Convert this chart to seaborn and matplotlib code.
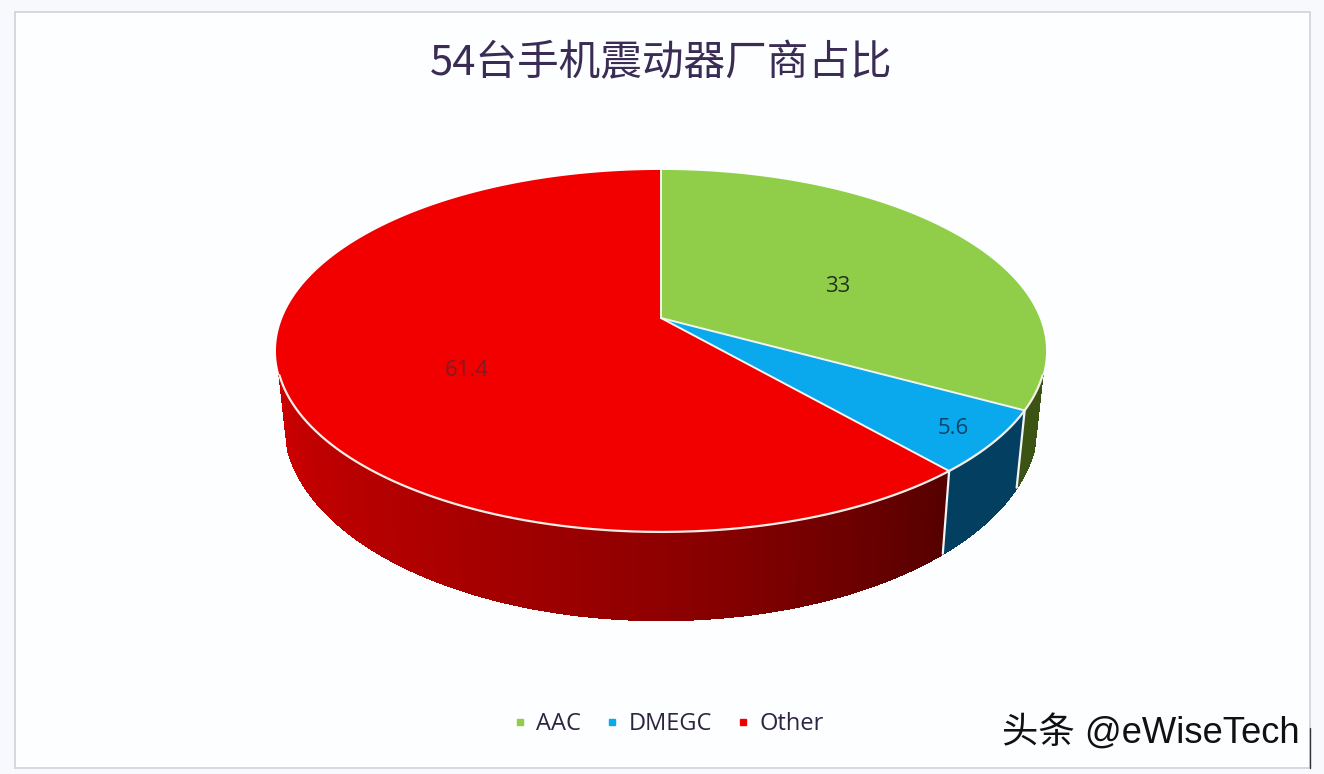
import numpy as np
import matplotlib
matplotlib.use('Agg')
import matplotlib.pyplot as plt
from matplotlib.lines import Line2D
from matplotlib.patches import Rectangle
import seaborn as sns

# vibration motor vendor share
vendors = ['AAC', 'DMEGC', 'Other']
shares = [33, 5.6, 61.4]
share_labels = ['33', '5.6', '61.4']

top_colors = ['#90ce4a', '#0aa9ee', '#f20000']

sns.set_theme(style='white')
plt.rcParams['font.family'] = ['Noto Sans CJK SC', 'DejaVu Sans']

# the pie is tilted, so the unit circle goes through a small perspective map (pixels)
CX, CY = 661, 318
PERSP = 0.182
RX, RY = 378.6, 175
DEPTH = 69
DEPTH_K = 1.09
BOTTOM_K = 0.978


def top_rim(t):
    # t in degrees, clockwise from 12 o'clock
    u, v = np.sin(np.radians(t)), np.cos(np.radians(t))
    w = 1 + PERSP * v
    return CX + RX * u / w, CY - RY * v / w


def bottom_rim(t):
    x, y = top_rim(t)
    return CX + (x - CX) * BOTTOM_K, CY + DEPTH + DEPTH_K * (y - CY)


fig = plt.figure(figsize=(13.24, 7.74), dpi=100, facecolor='#f8f9fc')
ax = fig.add_axes([0, 0, 1, 1])
ax.set_xlim(0, 1324)
ax.set_ylim(774, 0)
ax.axis('off')

ax.add_patch(Rectangle((15, 12), 1295, 756, fc='#fdfeff', ec='#cdd2da', lw=1.2))
ax.plot([1310, 1310], [728, 768], color='#30343a', lw=1)

edges = np.concatenate([[0], np.cumsum(shares)]) * 360 / sum(shares)

# side wall, shaded left to right
side_range = (108, 252)
red_side = sns.blend_palette(['#560000', '#8c0000', '#b00000', '#cc0000'], 200)
side_steps = np.arange(side_range[0], side_range[1], 0.5)
for t in side_steps:
    x0, y0 = top_rim(t)
    x1, y1 = top_rim(t + 0.5)
    x2, y2 = bottom_rim(t + 0.5)
    x3, y3 = bottom_rim(t)
    if t < edges[1]:
        c = '#3b5414'
    elif t < edges[2]:
        c = '#023f60'
    else:
        c = red_side[int((t - edges[2]) / (side_range[1] - edges[2]) * 199)]
    # no antialiasing here, otherwise the seams between quads show up
    ax.fill([x0, x1, x2, x3], [y0, y1, y2, y3], fc=c, ec=c, lw=0.8, antialiased=False)

# top face
for a, b, c in zip(edges[:-1], edges[1:], top_colors):
    ts = np.linspace(a, b, 200)
    xs, ys = top_rim(ts)
    ax.fill(np.r_[CX, xs], np.r_[CY, ys], color=c, lw=0)

# white lines
rim = np.linspace(side_range[0], side_range[1], 300)
ax.plot(*top_rim(rim), color='#f8eee8', lw=1.6)
for e in edges[:-1]:
    x, y = top_rim(e)
    ax.plot([CX, x], [CY, y], color='#f4f6ee', lw=1.4)
for e in edges[1:-1]:
    x, y = top_rim(e)
    xb, yb = bottom_rim(e)
    ax.plot([x, xb], [y, yb], color='#f4f6f6', lw=1.6)

# value labels
label_xy = [(838, 287), (953, 429), (467, 370)]
label_colors = ['#22331a', '#0b4468', '#7c1c24']
for txt, (x, y), c in zip(share_labels, label_xy, label_colors):
    ax.text(x, y, txt, ha='center', va='center', fontsize=16, color=c, family='Open Sans')

ax.text(661, 64, '54台手机震动器厂商占比', ha='center', va='center', fontsize=30,
        color='#3a2c55')

handles = [Line2D([], [], ls='', marker='s', ms=4.5, color=c) for c in top_colors]
ax.legend(handles, vendors, ncol=3, loc='center', bbox_to_anchor=(667 / 1324, 1 - 724 / 774),
          frameon=False, labelcolor='#2e2440', handlelength=0.8, handletextpad=0.3,
          columnspacing=0.9, borderpad=0, prop={'family': 'Open Sans', 'size': 17})

# watermark
ax.text(1151, 734, '头条 @eWiseTech', ha='center', va='center', fontsize=26.2, color='#111111',
        family=['Liberation Sans', 'Noto Sans CJK SC'])

fig.savefig('out.png', dpi=100, facecolor=fig.get_facecolor())
